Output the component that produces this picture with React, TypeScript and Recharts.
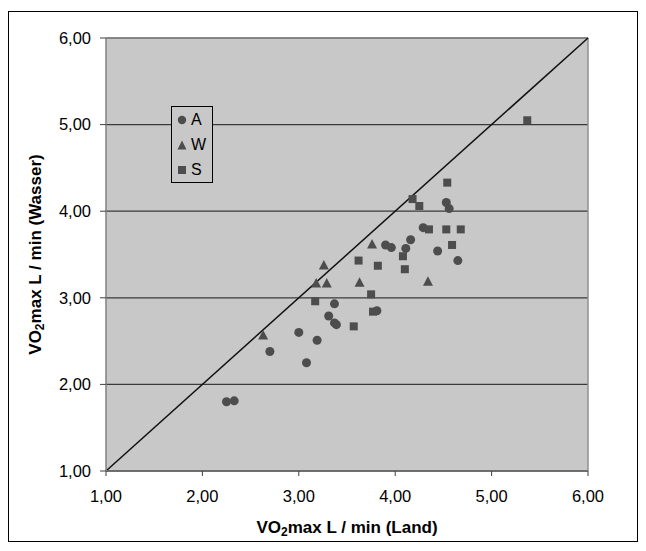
import React from 'react';
import {
  ScatterChart,
  Scatter,
  XAxis,
  YAxis,
  CartesianGrid,
  ReferenceLine,
  Legend,
  Label,
} from 'recharts';

const tickValues = [1, 2, 3, 4, 5, 6];

const seriesA = [
  { x: 2.25, y: 1.8 },
  { x: 2.33, y: 1.81 },
  { x: 2.7, y: 2.38 },
  { x: 3.0, y: 2.6 },
  { x: 3.08, y: 2.25 },
  { x: 3.19, y: 2.51 },
  { x: 3.31, y: 2.79 },
  { x: 3.37, y: 2.93 },
  { x: 3.37, y: 2.71 },
  { x: 3.39, y: 2.69 },
  { x: 3.81, y: 2.85 },
  { x: 3.9, y: 3.61 },
  { x: 3.96, y: 3.58 },
  { x: 4.11, y: 3.57 },
  { x: 4.16, y: 3.67 },
  { x: 4.29, y: 3.81 },
  { x: 4.44, y: 3.54 },
  { x: 4.53, y: 4.1 },
  { x: 4.56, y: 4.03 },
  { x: 4.65, y: 3.43 },
];

const seriesW = [
  { x: 2.63, y: 2.57 },
  { x: 3.18, y: 3.17 },
  { x: 3.26, y: 3.38 },
  { x: 3.29, y: 3.17 },
  { x: 3.63, y: 3.18 },
  { x: 3.76, y: 3.62 },
  { x: 4.34, y: 3.19 },
];

const seriesS = [
  { x: 3.17, y: 2.96 },
  { x: 3.57, y: 2.67 },
  { x: 3.62, y: 3.43 },
  { x: 3.75, y: 3.04 },
  { x: 3.77, y: 2.84 },
  { x: 3.82, y: 3.37 },
  { x: 4.08, y: 3.48 },
  { x: 4.1, y: 3.33 },
  { x: 4.18, y: 4.14 },
  { x: 4.25, y: 4.06 },
  { x: 4.35, y: 3.79 },
  { x: 4.53, y: 3.79 },
  { x: 4.54, y: 4.33 },
  { x: 4.59, y: 3.61 },
  { x: 4.68, y: 3.79 },
  { x: 5.37, y: 5.05 },
];

const identityLine = [
  { x: 1, y: 1 },
  { x: 6, y: 6 },
];

const legendItems = [
  { name: 'A', shape: 'circle' },
  { name: 'W', shape: 'triangle' },
  { name: 'S', shape: 'square' },
];

const MARK = '#4d4d4d';
const PLOT_BG = '#c8c8c8';
const FONT = '"Liberation Sans", Arial, sans-serif';

const fmt = (v: number) => v.toFixed(2).replace('.', ',');

const Circle = (p: any) => <circle cx={p.cx} cy={p.cy} r={4.5} fill={MARK} />;
const Square = (p: any) => <rect x={p.cx - 4} y={p.cy - 4} width={8} height={8} fill={MARK} />;
const Triangle = (p: any) => (
  <polygon
    points={`${p.cx},${p.cy - 5} ${p.cx + 5},${p.cy + 4.5} ${p.cx - 5},${p.cy + 4.5}`}
    fill={MARK}
  />
);

const LegendMarker = ({ shape }: { shape: string }) => (
  <svg width={10} height={10} style={{ display: 'block' }}>
    {shape === 'circle' && <circle cx={5} cy={5} r={4.2} fill={MARK} />}
    {shape === 'square' && <rect x={1} y={1} width={8} height={8} fill={MARK} />}
    {shape === 'triangle' && <polygon points="5,0.5 9.5,9.5 0.5,9.5" fill={MARK} />}
  </svg>
);

const LegendBox = () => (
  <div
    style={{
      border: '1px solid #000',
      background: PLOT_BG,
      width: 40,
      fontFamily: FONT,
      fontSize: 16,
      color: '#000',
    }}
  >
    {legendItems.map((it) => (
      <div key={it.name} style={{ display: 'flex', alignItems: 'center', height: 25 }}>
        <div style={{ marginLeft: 5, marginRight: 4 }}>
          <LegendMarker shape={it.shape} />
        </div>
        <span>{it.name}</span>
      </div>
    ))}
  </div>
);

const XTitle = (props: any) => {
  const vb = props.viewBox || {};
  const cx = vb.x + vb.width / 2;
  const y = vb.y + 62;
  return (
    <text x={cx} y={y} textAnchor="middle" fontFamily={FONT} fontSize={17} fontWeight="bold" fill="#000">
      <tspan>VO</tspan>
      <tspan fontSize={12} dy={3}>2</tspan>
      <tspan dy={-3}>max L / min (Land)</tspan>
    </text>
  );
};

const YTitle = (props: any) => {
  const vb = props.viewBox || {};
  const x = 32;
  const cy = vb.y + vb.height / 2;
  return (
    <text
      x={x}
      y={cy}
      textAnchor="middle"
      transform={`rotate(-90, ${x}, ${cy})`}
      fontFamily={FONT}
      fontSize={17}
      fontWeight="bold"
      fill="#000"
    >
      <tspan>VO</tspan>
      <tspan fontSize={12} dy={3}>2</tspan>
      <tspan dy={-3}>max L / min (Wasser)</tspan>
    </text>
  );
};

export default function App() {
  return (
    <div style={{ paddingTop: 3 }}>
      <div style={{ width: 628, height: 529, border: '1px solid #000', background: '#fff' }}>
        <ScatterChart width={628} height={529} margin={{ top: 26, right: 49, left: 0, bottom: 0 }}>
          <CartesianGrid
            vertical={false}
            horizontal={true}
            fill={PLOT_BG}
            fillOpacity={1}
            stroke="#3a3a3a"
            strokeWidth={1.3}
          />
          <XAxis
            type="number"
            dataKey="x"
            domain={[1, 6]}
            ticks={tickValues}
            tickFormatter={fmt}
            height={70}
            axisLine={{ stroke: '#707070', strokeWidth: 1.5 }}
            tickLine={{ stroke: '#404040' }}
            tickSize={5}
            tickMargin={14}
            tick={{ fill: '#000', fontSize: 16.5, fontFamily: FONT }}
            allowDataOverflow
          >
            <Label content={<XTitle />} />
          </XAxis>
          <YAxis
            type="number"
            dataKey="y"
            domain={[1, 6]}
            ticks={tickValues}
            tickFormatter={fmt}
            width={97}
            axisLine={{ stroke: '#808080', strokeWidth: 1.5 }}
            tickLine={{ stroke: '#404040' }}
            tickSize={6}
            tickMargin={9}
            tick={{ fill: '#000', fontSize: 16.5, fontFamily: FONT }}
            allowDataOverflow
          >
            <Label content={<YTitle />} />
          </YAxis>
          <ReferenceLine y={6} stroke="#909090" strokeWidth={1.5} />
          <ReferenceLine x={6} stroke="#909090" strokeWidth={1.5} />
          <ReferenceLine segment={identityLine} stroke="#111" strokeWidth={1.5} />
          <Legend
            layout="horizontal"
            verticalAlign="middle"
            align="center"
            content={<LegendBox />}
            wrapperStyle={{ position: 'absolute', left: 162, top: 94, width: 42, height: 'auto' }}
          />
          <Scatter name="A" data={seriesA} shape={Circle} isAnimationActive={false} />
          <Scatter name="W" data={seriesW} shape={Triangle} isAnimationActive={false} />
          <Scatter name="S" data={seriesS} shape={Square} isAnimationActive={false} />
        </ScatterChart>
      </div>
    </div>
  );
}
